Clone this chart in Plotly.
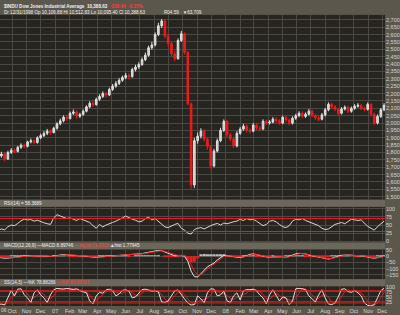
import pandas as pd
import plotly.graph_objects as go
from plotly.subplots import make_subplots

# ---------------- data (weekly readings) ----------------
close = [1777,1790,1756,1800,1815,1808,1835,1850,1842,1872,
         1880,1868,1900,1915,1930,1945,1935,1965,1995,2015,
         2040,2030,2066,2075,2046,2058,2080,2110,2134,2125,
         2161,2180,2201,2190,2228,2250,2269,2290,2309,2323,
         2315,2363,2380,2397,2430,2460,2511,2530,2600,2660,
         2693,2590,2540,2470,2437,2560,2606,2480,2130,1580,
         1880,1911,1945,1890,1840,1709,1810,1880,1950,2012,
         1920,1891,1844,1930,1959,1979,1950,1945,1986,1965,
         1960,2012,2000,2006,2026,2015,2000,2039,2020,1999,
         2033,2050,2066,2045,2060,2080,2050,2035,2026,2055,
         2090,2127,2110,2093,2066,2095,2107,2080,2100,2114,
         2120,2100,2093,2127,2060,2000,2045,2090,2120]

high = [1800,1805,1800,1812,1830,1828,1845,1862,1860,1880,
        1895,1890,1910,1928,1945,1960,1955,1975,2005,2030,
        2052,2055,2078,2092,2085,2070,2092,2120,2148,2150,
        2172,2195,2215,2212,2240,2265,2285,2305,2322,2340,
        2338,2375,2395,2412,2445,2478,2525,2550,2615,2680,
        2705,2700,2605,2552,2490,2575,2625,2615,2490,2140,
        1900,1935,1965,1958,1905,1850,1825,1895,1968,2025,
        2020,1935,1905,1945,1972,1995,1990,1965,2000,1998,
        1980,2025,2025,2020,2040,2038,2028,2050,2052,2030,
        2045,2062,2080,2078,2072,2095,2090,2062,2048,2068,
        2102,2140,2138,2122,2102,2108,2120,2118,2112,2128,
        2135,2130,2112,2140,2135,2070,2058,2102,2135]

low = [1760,1765,1740,1750,1790,1795,1800,1825,1830,1835,
       1862,1855,1860,1890,1905,1918,1920,1930,1955,1985,
       2005,2015,2025,2055,2030,2035,2050,2072,2100,2110,
       2118,2150,2170,2172,2182,2218,2240,2258,2280,2298,
       2295,2308,2350,2368,2388,2420,2450,2498,2520,2590,
       2645,2575,2520,2455,2420,2430,2550,2465,2120,1555,
       1560,1860,1895,1875,1820,1690,1700,1800,1870,1940,
       1905,1875,1830,1835,1920,1948,1935,1930,1938,1952,
       1945,1952,1988,1990,1998,2002,1988,1992,2008,1985,
       1990,2022,2040,2032,2035,2050,2040,2022,2012,2018,
       2045,2080,2098,2080,2052,2058,2085,2068,2070,2090,
       2105,2088,2080,2085,2045,1985,1990,2035,2080]

rsi = [33,38,35,45,50,48,55,63,68,66,
       67,62,65,60,57,54,52,72,82,78,
       74,70,72,68,64,70,66,62,58,48,
       40,52,44,50,55,58,62,66,72,78,
       72,68,65,60,62,70,74,66,70,62,
       52,44,42,48,52,55,40,34,25,22,
       36,40,42,38,44,48,52,55,50,56,
       54,58,60,62,68,64,70,66,68,62,
       55,48,52,62,64,60,52,45,42,48,
       62,68,66,70,64,60,56,52,48,40,
       36,38,45,52,55,58,54,62,68,66,
       64,66,55,46,40,34,45,55,62]

macd = [-8,-12,-15,-14,-10,-6,-2,2,4,5,
        6,4,3,2,0,-2,-1,3,8,12,
        14,12,11,10,6,4,3,0,-3,-6,
        -8,-5,-3,0,4,7,10,12,14,15,
        13,14,16,18,22,28,34,38,44,48,
        46,36,24,12,4,6,8,0,-40,-120,
        -165,-168,-140,-110,-85,-70,-55,-30,-10,8,
        5,0,-3,-6,-10,-4,8,16,20,14,
        6,-4,-8,-10,-6,-8,-12,-14,-10,0,
        12,20,24,25,20,10,4,0,-8,-15,
        -20,-22,-16,-6,2,8,10,12,10,6,
        4,6,2,-6,-14,-16,-10,-3,2]

signal = [-5,-8,-11,-13,-12,-10,-6,-2,1,3,
          5,5,4,3,2,0,-1,0,4,8,
          11,12,12,11,9,6,4,2,-1,-4,
          -6,-6,-5,-2,1,4,7,10,12,14,
          14,14,15,16,19,23,29,34,39,44,
          46,41,32,20,10,7,7,4,-15,-70,
          -120,-150,-150,-128,-100,-80,-64,-44,-22,-2,
          4,2,-1,-4,-8,-6,2,11,17,16,
          10,1,-5,-8,-7,-7,-10,-12,-11,-4,
          6,15,21,24,22,14,7,2,-4,-11,
          -17,-20,-18,-10,-3,4,8,10,10,8,
          5,5,3,-2,-9,-14,-12,-6,-1]

stoch_k = [12,15,10,50,82,55,88,90,60,45,
           22,70,85,60,45,22,60,85,92,90,
           88,92,90,86,90,80,75,70,30,15,
           55,72,68,85,88,80,55,65,82,85,
           78,45,50,70,86,88,84,78,80,74,
           25,22,30,55,80,84,60,40,20,10,
           12,55,40,20,70,90,88,55,60,78,
           30,22,55,70,35,80,86,85,88,80,
           60,45,15,60,85,55,30,50,45,12,
           30,90,92,90,85,55,40,25,60,85,
           45,15,12,20,50,88,90,76,72,82,
           70,55,20,8,5,12,45,80,92]

stoch_d = [14,13,12,25,47,62,75,78,79,65,
           42,46,59,72,63,42,42,56,79,89,
           90,90,90,89,89,85,82,75,58,38,
           33,47,65,75,80,84,74,67,67,77,
           82,69,58,55,69,81,86,83,81,77,
           60,40,26,36,55,73,75,61,40,23,
           14,26,36,38,43,60,83,78,68,64,
           56,43,36,49,53,62,67,84,86,84,
           76,62,40,40,53,67,57,45,42,36,
           29,44,71,91,89,77,60,40,42,57,
           63,48,24,16,27,53,76,85,79,77,
           75,69,49,28,11,8,21,46,72]

first_label = "06"
month_labels = ["Oct","Nov","Dec","07","Feb","Mar","Apr","May","Jun","Jul","Aug",
                "Sep","Oct","Nov","Dec","08","Feb","Mar","Apr","May","Jun","Jul","Aug",
                "Sep","Oct","Nov","Dec"]
price_ticks = list(range(1500, 2701, 50))

# ---------------- derived ----------------
dates = pd.date_range(end="2008-12-05", periods=len(close), freq="7D")
opens = [close[0]] + close[:-1]
hist = [m - s for m, s in zip(macd, signal)]
tick_dates = list(pd.date_range("2006-10-01", "2008-12-01", freq="MS"))

# ---------------- style ----------------
BG = "#5c574c"
PLOT = "#262520"
GRID = "#4a4943"
STRIP = "#6c675b"
RED = "#ee1c1c"
WHITE = "#e2e2e2"
LBL = "#d6d6d6"
H = 306.0

def dom(top, bot):
    return [(H - bot) / H, (H - top) / H]

def py(ypx):
    return (H - ypx) / H

fig = make_subplots(rows=4, cols=1, shared_xaxes=True, vertical_spacing=0.02)

fig.add_trace(go.Candlestick(
    x=dates, open=opens, high=high, low=low, close=close,
    increasing=dict(line=dict(color=WHITE, width=1), fillcolor="#c8c8c8"),
    decreasing=dict(line=dict(color=RED, width=1), fillcolor=RED),
    whiskerwidth=0, hoverinfo="skip"), row=1, col=1)

fig.add_trace(go.Scatter(x=dates, y=rsi, mode="lines",
                         line=dict(color="#d8d8d8", width=1)), row=2, col=1)

fig.add_trace(go.Bar(x=dates, y=hist,
                     marker=dict(color=[RED if h < 0 else "#bdbdbd" for h in hist], line=dict(width=0))),
              row=3, col=1)
fig.add_trace(go.Scatter(x=dates, y=macd, mode="lines",
                         line=dict(color="#e8e8e8", width=1)), row=3, col=1)
fig.add_trace(go.Scatter(x=dates, y=signal, mode="lines",
                         line=dict(color=RED, width=1)), row=3, col=1)

fig.add_trace(go.Scatter(x=dates, y=stoch_d, mode="lines",
                         line=dict(color=RED, width=1)), row=4, col=1)
fig.add_trace(go.Scatter(x=dates, y=stoch_k, mode="lines",
                         line=dict(color="#e6dede", width=1)), row=4, col=1)

fig.update_layout(
    width=400, height=315,
    margin=dict(l=0, r=15, t=0, b=9),
    paper_bgcolor=BG, plot_bgcolor=PLOT,
    showlegend=False, bargap=0.05,
    font=dict(family="Liberation Sans", size=6, color=LBL),
)

fig.update_xaxes(range=["2006-09-05", "2008-12-07"], tickvals=tick_dates, ticktext=month_labels,
                 showgrid=True, gridcolor=GRID, gridwidth=1, zeroline=False, showline=False,
                 ticks="", tickangle=0, tickfont=dict(size=5.5, color=LBL),
                 rangeslider_visible=False)

yax = dict(side="right", showgrid=True, gridcolor=GRID, gridwidth=1, zeroline=False,
           showline=False, ticks="", tickfont=dict(size=5.5, color=LBL))

fig.update_layout(
    yaxis=dict(yax, domain=dom(13, 199), range=[1479.8, 2733.7],
               tickvals=price_ticks, ticktext=[f"{v:,}" for v in price_ticks]),
    yaxis2=dict(yax, domain=dom(206, 242), range=[-3.8, 106.9], tickvals=[0, 25, 50, 75, 100]),
    yaxis3=dict(yax, domain=dom(249, 279), range=[-185.5, 56.5], tickvals=[50, 0, -50, -100, -150]),
    yaxis4=dict(yax, domain=dom(286, 306), range=[5, 103], tickvals=[25, 50, 75, 100]),
)

shapes = []
for top, bot in [(199, 206), (242, 249), (279, 286)]:
    shapes.append(dict(type="rect", xref="paper", yref="paper", x0=0, x1=1,
                       y0=py(bot), y1=py(top), fillcolor=STRIP, line=dict(width=0), layer="below"))
for yv in (70, 30):
    shapes.append(dict(type="line", xref="paper", yref="y2", x0=0, x1=1, y0=yv, y1=yv,
                       line=dict(color=RED, width=1)))
for yv in (80, 20):
    shapes.append(dict(type="line", xref="paper", yref="y4", x0=0, x1=1, y0=yv, y1=yv,
                       line=dict(color=RED, width=1)))
fig.update_layout(shapes=shapes)

ann = []
def txt(x, ypx, s, size=4.6, color="#f0f0f0", pad=1):
    ann.append(dict(xref="paper", yref="paper", x=x, y=py(ypx), text=s, showarrow=False,
                    xanchor="left", yanchor="middle", borderpad=pad,
                    font=dict(size=size, color=color)))

txt(0.004, 4.5, "<b>$INDU Dow Jones Industrial Average</b>  <b>10,388.63</b>  "
               "<span style='color:#ff3a3a'><b>-339.49</b>  <b>-3.25%</b></span>")
txt(0.004, 10.3, "Dr 12/31/1998 Op 10,106.88 Hi 10,512.83 Lo 10,095.40 Cl 10,388.63")
txt(0.42, 10.3, "R04.59   ▼63,709")
txt(0.004, 202.5, "RSI(14) = 58.3689")
txt(0.004, 245.5, "MACD(12,26,9) —MACD 8.89746 <span style='color:#ff3a3a'>—signal 11.2026</span> ▲hist 1.77945")
txt(0.004, 282.5, "SS(14,3) —%K 78.88266 <span style='color:#ff3a3a'>—%D 84.86961</span>")
txt(0.0, 310.5, first_label, size=5, color=LBL, pad=0)
fig.update_layout(annotations=ann)

fig.write_html("out.html")
